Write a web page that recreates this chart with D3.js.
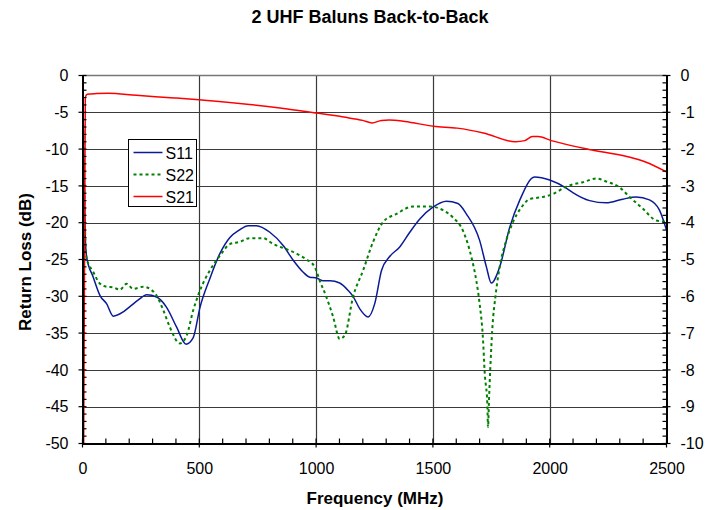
<!DOCTYPE html>
<html>
<head>
<meta charset="utf-8">
<script src="https://cdn.jsdelivr.net/npm/d3@7"></script>
<style>
  body { margin: 0; background: #fff; }
  svg { display: block; font-family: Arial, "Liberation Sans", sans-serif; }
</style>
</head>
<body>
<svg width="720" height="510"></svg>
<script>
// frequency (MHz), return loss (dB)
const s11 = [
  [0, 0], [5, -10], [12, -22], [18, -24.7], [46, -27.4], [75, -29.9], [103, -31.0],
  [132, -32.7], [175, -32.1], [203, -31.4], [239, -30.5], [275, -29.8], [317, -30.1],
  [360, -31.5], [403, -34.2], [443, -36.5], [474, -35.6], [503, -31.5], [545, -27.6],
  [588, -24.2], [631, -22.0], [671, -21.0], [709, -20.4], [745, -20.4], [802, -21.3],
  [859, -23.1], [902, -25.1], [944, -26.7], [973, -27.4], [1002, -27.5], [1030, -27.9],
  [1059, -27.9], [1101, -28.2], [1137, -29.2], [1158, -30.0], [1187, -31.7],
  [1223, -32.8], [1251, -31.0], [1280, -26.5], [1315, -24.6], [1358, -23.3],
  [1401, -21.3], [1444, -19.5], [1500, -17.9], [1558, -17.1], [1607, -17.4],
  [1643, -18.8], [1700, -22.4], [1729, -26.0], [1750, -28.2], [1786, -26.0],
  [1829, -20.6], [1871, -17.0], [1935, -13.8], [2000, -14.2], [2071, -15.3],
  [2099, -15.9], [2171, -17.0], [2242, -17.3], [2313, -16.8], [2370, -16.5],
  [2427, -16.9], [2470, -18.3], [2500, -21.0]
];

const s22 = [
  [0, 0], [5, -10], [12, -22], [18, -24.9], [46, -26.7], [75, -28.3], [103, -28.7],
  [132, -28.8], [160, -29.1], [189, -28.3], [217, -29.0], [260, -28.7], [289, -29.0],
  [317, -29.9], [346, -31.9], [374, -34.2], [417, -36.4], [446, -35.3], [474, -31.9],
  [503, -29.2], [545, -26.5], [588, -24.5], [631, -22.9], [674, -22.6], [716, -22.1],
  [773, -22.1], [816, -22.9], [873, -23.6], [916, -24.2], [959, -25.0], [994, -26.0],
  [1016, -27.9], [1044, -30.1], [1073, -32.8], [1101, -35.8], [1123, -35.3],
  [1158, -30.1], [1201, -26.5], [1244, -22.6], [1287, -19.9], [1344, -18.8],
  [1415, -17.8], [1486, -17.8], [1543, -18.3], [1586, -19.3], [1629, -21.1],
  [1665, -24.7], [1686, -27.9], [1700, -31.0], [1714, -35.6], [1722, -40.5],
  [1733, -44.6], [1736, -47.8], [1740, -44.2], [1746, -39.6], [1754, -34.6],
  [1769, -29.7], [1786, -26.0], [1814, -22.4], [1843, -19.9], [1879, -17.9],
  [1914, -16.8], [1971, -16.5], [2014, -16.1], [2071, -15.1], [2099, -14.8],
  [2142, -14.5], [2199, -14.0], [2242, -14.4], [2299, -15.2], [2342, -16.5],
  [2399, -18.1], [2456, -19.7], [2500, -19.9]
];

// insertion loss (dB), right axis
const s21 = [
  [5, -10], [12, -0.6], [20, -0.51], [60, -0.49], [110, -0.48], [231, -0.54],
  [393, -0.61], [498, -0.66], [715, -0.79], [877, -0.91], [1001, -1.02],
  [1118, -1.13], [1200, -1.22], [1240, -1.29], [1280, -1.22], [1313, -1.21],
  [1380, -1.25], [1503, -1.38], [1604, -1.43], [1716, -1.56], [1853, -1.80],
  [1893, -1.77], [1926, -1.66], [1950, -1.66], [2007, -1.77], [2168, -2.01],
  [2330, -2.20], [2410, -2.35], [2500, -2.62]
];

const xTicks = [0, 500, 1000, 1500, 2000, 2500];
const yTicks = [0, -5, -10, -15, -20, -25, -30, -35, -40, -45, -50];
const y2Ticks = [0, -1, -2, -3, -4, -5, -6, -7, -8, -9, -10];

const series = [
  { name: "S11", data: s11, color: "#0b1b96", width: 1.5, dash: null, right: false },
  { name: "S22", data: s22, color: "#008000", width: 2, dash: "3,3", right: false },
  { name: "S21", data: s21, color: "#ff0000", width: 1.5, dash: null, right: true }
];

const svg = d3.select("svg");
const pLeft = 82.5, pRight = 666.5, pTop = 75.5, pBottom = 443.5;

const x = d3.scaleLinear().domain([0, 2500]).range([pLeft, pRight]);
const y = d3.scaleLinear().domain([-50, 0]).range([pBottom, pTop]);
const y2 = d3.scaleLinear().domain([-10, 0]).range([pBottom, pTop]);

// grid
svg.append("g")
  .selectAll("line")
  .data(yTicks.slice(1, -1))
  .join("line")
  .attr("x1", pLeft).attr("x2", pRight)
  .attr("y1", d => Math.round(y(d)) + 0.5).attr("y2", d => Math.round(y(d)) + 0.5)
  .attr("stroke", "#3a3a3a").attr("stroke-width", 1.2);

svg.append("g")
  .selectAll("line")
  .data(xTicks.slice(1, -1))
  .join("line")
  .attr("y1", pTop).attr("y2", pBottom)
  .attr("x1", d => Math.round(x(d)) + 0.5).attr("x2", d => Math.round(x(d)) + 0.5)
  .attr("stroke", "#3a3a3a").attr("stroke-width", 1.2);

// top border
svg.append("line")
  .attr("x1", pLeft).attr("x2", pRight).attr("y1", pTop).attr("y2", pTop)
  .attr("stroke", "#777").attr("stroke-width", 1.5);

// series
svg.append("clipPath").attr("id", "plot")
  .append("rect").attr("x", pLeft).attr("y", pTop - 1)
  .attr("width", pRight - pLeft).attr("height", pBottom - pTop + 1);

const plot = svg.append("g").attr("clip-path", "url(#plot)");

series.forEach(s => {
  const ys = s.right ? y2 : y;
  const line = d3.line()
    .x(d => x(d[0]))
    .y(d => ys(d[1]))
    .curve(d3.curveMonotoneX);
  plot.append("path")
    .datum(s.data)
    .attr("fill", "none")
    .attr("stroke", s.color)
    .attr("stroke-width", s.width)
    .attr("stroke-dasharray", s.dash)
    .attr("d", line);
});

// axes (plain hyphen for negatives, like the original)
const fmt = d => String(d);
const axisL = svg.append("g").attr("transform", `translate(${pLeft},0)`)
  .call(d3.axisLeft(y).tickValues(yTicks).tickSize(0).tickPadding(14).tickFormat(fmt));
const axisR = svg.append("g").attr("transform", `translate(${pRight},0)`)
  .call(d3.axisRight(y2).tickValues(y2Ticks).tickSize(0).tickPadding(14).tickFormat(fmt));
const axisB = svg.append("g").attr("transform", `translate(0,${pBottom})`)
  .call(d3.axisBottom(x).tickValues(xTicks).tickSize(0).tickPadding(19).tickFormat(fmt));

[axisL, axisR, axisB].forEach(a => {
  a.select(".domain").attr("stroke", "#000").attr("stroke-width", 2);
  a.selectAll("text").attr("font-size", 16).attr("fill", "#000")
    .attr("font-family", "Arial, 'Liberation Sans', sans-serif");
});

// minor ticks
svg.append("g").selectAll("line")
  .data(d3.range(-50, 1, 1))
  .join("line")
  .attr("x1", d => d % 5 === 0 ? pLeft - 4 : pLeft).attr("x2", pLeft + 4)
  .attr("y1", d => y(d)).attr("y2", d => y(d))
  .attr("stroke", "#000").attr("stroke-width", 1.2);

svg.append("g").selectAll("line")
  .data(d3.range(-50, 1, 1))
  .join("line")
  .attr("x1", d => d % 5 === 0 ? pRight + 4 : pRight).attr("x2", pRight - 4)
  .attr("y1", d => y(d)).attr("y2", d => y(d))
  .attr("stroke", "#000").attr("stroke-width", 1.2);

svg.append("g").selectAll("line")
  .data(d3.range(0, 2501, 100))
  .join("line")
  .attr("x1", d => x(d)).attr("x2", d => x(d))
  .attr("y1", d => d % 500 === 0 ? pBottom + 4 : pBottom).attr("y2", pBottom - 5)
  .attr("stroke", "#000").attr("stroke-width", 1.2);

// titles
svg.append("text")
  .attr("x", 370).attr("y", 23)
  .attr("text-anchor", "middle")
  .attr("font-size", 18).attr("font-weight", "bold")
  .text("2 UHF Baluns Back-to-Back");

svg.append("text")
  .attr("x", 375).attr("y", 504)
  .attr("text-anchor", "middle")
  .attr("font-size", 17).attr("font-weight", "bold")
  .text("Frequency (MHz)");

svg.append("text")
  .attr("transform", "translate(31,262) rotate(-90)")
  .attr("text-anchor", "middle")
  .attr("font-size", 17).attr("font-weight", "bold")
  .text("Return Loss (dB)");

// legend
const legend = svg.append("g").attr("transform", "translate(128.5,139.5)");
legend.append("rect")
  .attr("width", 68).attr("height", 67)
  .attr("fill", "#fff").attr("stroke", "#000").attr("stroke-width", 1);

const entry = legend.selectAll("g.entry")
  .data(series)
  .join("g")
  .attr("class", "entry")
  .attr("transform", (d, i) => `translate(0,${13 + i * 22})`);

entry.append("line")
  .attr("x1", 5).attr("x2", 34)
  .attr("stroke", d => d.color)
  .attr("stroke-width", d => d.width)
  .attr("stroke-dasharray", d => d.dash);

entry.append("text")
  .attr("x", 37).attr("y", 6)
  .attr("font-size", 16)
  .text(d => d.name);
</script>
</body>
</html>
